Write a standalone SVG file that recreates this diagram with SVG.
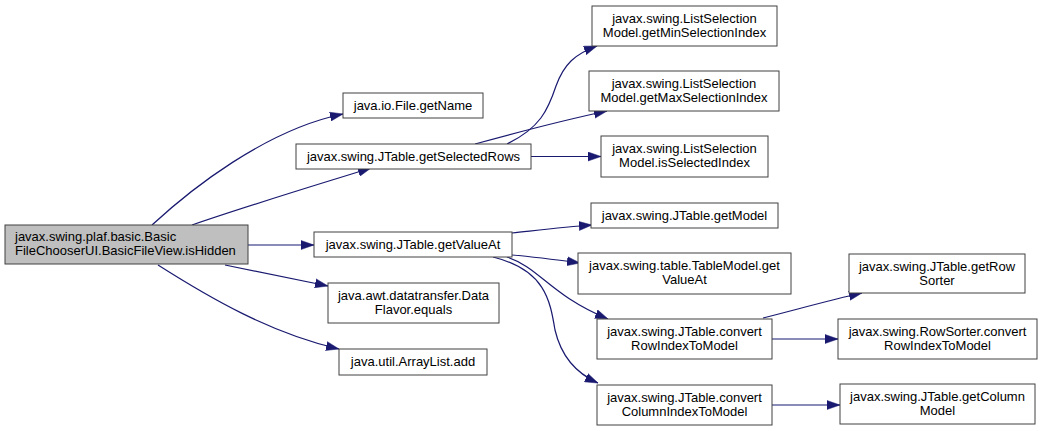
<svg xmlns="http://www.w3.org/2000/svg" width="1041" height="431" viewBox="0 0 1041 431">
<defs>
<marker id="ah" markerWidth="14" markerHeight="10" refX="13" refY="5" orient="auto" markerUnits="userSpaceOnUse">
<path d="M0,0.5 L13,5 L0,9.5 z" fill="#191970" stroke="#191970" stroke-width="0.5"/>
</marker>
<style>
.n rect{fill:#ffffff;stroke:#404040;stroke-width:1}
.n text{font-family:"Liberation Sans",Arial,sans-serif;font-size:13px;fill:#000000;text-anchor:middle}
#n0 rect{fill:#bfbfbf}
#n0 text{text-anchor:start}
.e path{fill:none;stroke:#191970;stroke-width:1.2;marker-end:url(#ah)}
</style>
</defs>
<rect width="1041" height="431" fill="#ffffff"/>
<g id="edges" class="e">
<path d="M152,225 C190,190 265,130 343,114"/>
<path d="M192,225 C250,205 310,187 371,168"/>
<path d="M248,245 L314,245"/>
<path d="M225,265 C260,272 295,279 328,286"/>
<path d="M158,265 C210,298 270,333 339,349"/>
<path d="M507,144 C540,128 548,110 556,86 C564,64 575,54 597,46"/>
<path d="M475,144 C515,133 560,121 607,111"/>
<path d="M531,156.5 L601,156.5"/>
<path d="M512,233 C540,230 565,227 592,225"/>
<path d="M512,255 C535,257 558,260 580,263"/>
<path d="M507,257 C540,268 550,295 608,319"/>
<path d="M493,257 C545,270 550,300 555,330 C562,360 580,375 598,383"/>
<path d="M763,318 C795,310 830,300 862,293"/>
<path d="M772,339 L838,339"/>
<path d="M772,405 L840,405"/>
</g>
<g id="n0" class="n"><rect x="5" y="225" width="243" height="39"/><text x="15" y="241">javax.swing.plaf.basic.Basic</text><text x="15" y="255">FileChooserUI.BasicFileView.isHidden</text></g>
<g id="n1" class="n"><rect x="343" y="93" width="140" height="25"/><text x="413" y="110">java.io.File.getName</text></g>
<g id="n2" class="n"><rect x="296" y="144" width="235" height="25"/><text x="413.5" y="161">javax.swing.JTable.getSelectedRows</text></g>
<g id="n3" class="n"><rect x="592" y="6" width="185" height="40"/><text x="684.5" y="23">javax.swing.ListSelection</text><text x="684.5" y="37">Model.getMinSelectionIndex</text></g>
<g id="n4" class="n"><rect x="589" y="71" width="190" height="40"/><text x="684" y="88">javax.swing.ListSelection</text><text x="684" y="102">Model.getMaxSelectionIndex</text></g>
<g id="n5" class="n"><rect x="601" y="136" width="167" height="41"/><text x="684.5" y="153">javax.swing.ListSelection</text><text x="684.5" y="167">Model.isSelectedIndex</text></g>
<g id="n6" class="n"><rect x="314" y="232" width="198" height="25"/><text x="413" y="249">javax.swing.JTable.getValueAt</text></g>
<g id="n7" class="n"><rect x="328" y="283" width="171" height="40"/><text x="413.5" y="300">java.awt.datatransfer.Data</text><text x="413.5" y="314">Flavor.equals</text></g>
<g id="n8" class="n"><rect x="339" y="349" width="148" height="26"/><text x="413" y="366">java.util.ArrayList.add</text></g>
<g id="n9" class="n"><rect x="591" y="203" width="187" height="25"/><text x="684.5" y="220">javax.swing.JTable.getModel</text></g>
<g id="n10" class="n"><rect x="578" y="253" width="213" height="41"/><text x="684.5" y="270">javax.swing.table.TableModel.get</text><text x="684.5" y="284">ValueAt</text></g>
<g id="n11" class="n"><rect x="597" y="319" width="175" height="40"/><text x="684.5" y="336">javax.swing.JTable.convert</text><text x="684.5" y="350">RowIndexToModel</text></g>
<g id="n12" class="n"><rect x="597" y="385" width="175" height="40"/><text x="684.5" y="402">javax.swing.JTable.convert</text><text x="684.5" y="416">ColumnIndexToModel</text></g>
<g id="n13" class="n"><rect x="849" y="254" width="176" height="39"/><text x="937" y="271">javax.swing.JTable.getRow</text><text x="937" y="285">Sorter</text></g>
<g id="n14" class="n"><rect x="838" y="319" width="199" height="40"/><text x="937.5" y="336">javax.swing.RowSorter.convert</text><text x="937.5" y="350">RowIndexToModel</text></g>
<g id="n15" class="n"><rect x="840" y="384" width="195" height="40"/><text x="937.5" y="401">javax.swing.JTable.getColumn</text><text x="937.5" y="415">Model</text></g>
</svg>
